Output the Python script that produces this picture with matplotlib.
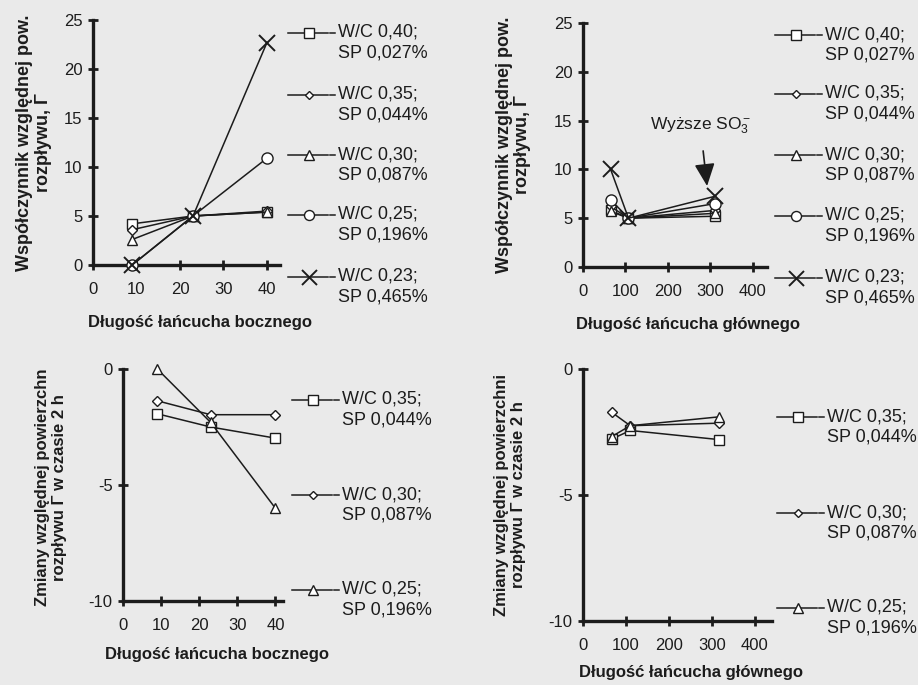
import numpy as np
import matplotlib
matplotlib.use("Agg")
from matplotlib import pyplot as plt
from matplotlib.lines import Line2D

plt.rcParams['font.family'] = ['Liberation Sans', 'DejaVu Sans']
plt.rcParams['mathtext.fontset'] = 'custom'
plt.rcParams['mathtext.rm'] = 'Liberation Sans'
plt.rcParams['mathtext.it'] = 'Liberation Sans'
plt.rcParams['axes.unicode_minus'] = False

# side chain length (panels on the left)
side_x = [9, 23, 40]
# main chain length (panels on the right)
main_x = [65, 107, 311]
main_x_2h = [67, 110, 316]

# relative spread coefficient vs side chain length
side_wc040 = [4.2, 5.0, 5.4]
side_wc035 = [3.6, 5.0, 5.5]
side_wc030 = [2.6, 5.0, 5.4]
side_wc025 = [0.0, 5.0, 10.9]
side_wc023 = [0.0, 5.0, 22.7]

# relative spread coefficient vs main chain length
main_wc040 = [5.8, 5.0, 5.2]
main_wc035 = [6.2, 5.0, 5.8]
main_wc030 = [5.7, 5.0, 5.5]
main_wc025 = [6.9, 5.0, 6.5]
main_wc023 = [10.0, 5.0, 7.25]

# change of relative spread after 2 h
side2h_wc035 = [-1.93, -2.5, -2.98]
side2h_wc030 = [-1.37, -1.97, -1.97]
side2h_wc025 = [0.0, -2.3, -6.0]

main2h_wc035 = [-2.78, -2.44, -2.8]
main2h_wc030 = [-1.72, -2.25, -2.15]
main2h_wc025 = [-2.68, -2.25, -1.9]

labels5 = ["W/C 0,40;\nSP 0,027%", "W/C 0,35;\nSP 0,044%", "W/C 0,30;\nSP 0,087%",
           "W/C 0,25;\nSP 0,196%", "W/C 0,23;\nSP 0,465%"]
labels3 = ["W/C 0,35;\nSP 0,044%", "W/C 0,30;\nSP 0,087%", "W/C 0,25;\nSP 0,196%"]

ink = '#1c1c1c'
bg = '#eaeaea'
W, H = 918, 685

styles = {
    's': dict(marker='s', ms=7.5),
    'D': dict(marker='D', ms=5),
    '^': dict(marker='^', ms=7.5),
    'o': dict(marker='o', ms=8),
    'x': dict(marker='x', ms=12, mew=1.4),
}

fig = plt.figure(figsize=(9.18, 6.85), dpi=100, facecolor=bg)


def box(l, r, top, bot):
    return [l / W, 1 - bot / H, (r - l) / W, (bot - top) / H]


def style_ax(ax, xt, yt, xlim, ylim):
    ax.set_facecolor('none')
    for s in ['top', 'right']:
        ax.spines[s].set_visible(False)
    for s in ['left', 'bottom']:
        ax.spines[s].set_linewidth(2.4)
        ax.spines[s].set_color(ink)
    ax.set_xlim(*xlim)
    ax.set_ylim(*ylim)
    ax.set_xticks(xt)
    ax.set_yticks(yt)
    ax.tick_params(direction='inout', length=7, width=2, color=ink,
                   labelsize=12, labelcolor=ink)
    ax.tick_params(axis='x', pad=9)
    ax.tick_params(axis='y', pad=4)


def plot_series(ax, x, series, marks):
    for y, m in zip(series, marks):
        st = dict(styles[m])
        ax.plot(x, y, color=ink, lw=1.1, mfc='white', mec=ink,
                clip_on=False, zorder=3, **st)


def legend(x0, ys, labels, marks):
    for y, lab, m in zip(ys, labels, marks):
        fy = 1 - y / H
        fig.add_artist(Line2D([x0 / W, (x0 + 40) / W], [fy, fy], color=ink, lw=1.1))
        fig.add_artist(Line2D([(x0 + 42) / W, (x0 + 47) / W], [fy, fy], color=ink, lw=1.1))
        st = dict(styles[m])
        st['ms'] = st['ms'] * 0.9
        fig.add_artist(Line2D([(x0 + 21) / W], [fy], color=ink, mfc='white', mec=ink, **st))
        fig.text((x0 + 50) / W, fy + 9 / H, lab, fontsize=13, color=ink,
                 va='top', ha='left', linespacing=1.3)


def labels(ax, xl, yl, xc, yc, ysize=12):
    ax.set_xlabel(xl, fontsize=12, fontweight='bold', color=ink)
    ax.xaxis.set_label_coords(*xc)
    ax.set_ylabel(yl, fontsize=ysize, fontweight='bold', color=ink, linespacing=1.15)
    ax.yaxis.set_label_coords(*yc)


marks5 = ['s', 'D', '^', 'o', 'x']
marks3 = ['s', 'D', '^']

# top left
ax1 = fig.add_axes(box(93, 280, 20, 265))
style_ax(ax1, [0, 10, 20, 30, 40], [0, 5, 10, 15, 20, 25], (0, 43), (0, 25))
plot_series(ax1, side_x, [side_wc040, side_wc035, side_wc030, side_wc025, side_wc023], marks5)
labels(ax1, "Długość łańcucha bocznego", "Współczynnik względnej pow.\nrozpływu, Γ",
       (0.57, -0.205), (-0.22, 0.5), ysize=13)
legend(288, [33, 95, 155, 215, 277], labels5, marks5)

# top right
ax2 = fig.add_axes(box(583, 767, 23, 267))
style_ax(ax2, [0, 100, 200, 300, 400], [0, 5, 10, 15, 20, 25], (0, 433), (0, 25))
plot_series(ax2, main_x, [main_wc040, main_wc035, main_wc030, main_wc025, main_wc023], marks5)
labels(ax2, "Długość łańcucha głównego", "Współczynnik względnej pow.\nrozpływu, Γ",
       (0.57, -0.205), (-0.28, 0.5), ysize=13)
ax2.annotate("Wyższe SO$_3^-$", xy=(292, 8.3), xytext=(276, 14.5), ha='center', va='center',
             fontsize=12.5, color=ink,
             arrowprops=dict(arrowstyle='-|>,head_width=0.5,head_length=1.1',
                             color=ink, lw=1.2, shrinkA=9, shrinkB=0),
             annotation_clip=False)
legend(775, [35, 94, 155, 216, 278], labels5, marks5)

# bottom left
ax3 = fig.add_axes(box(123, 283, 369, 601))
style_ax(ax3, [0, 10, 20, 30, 40], [-10, -5, 0], (0, 42), (-10, 0))
plot_series(ax3, side_x, [side2h_wc035, side2h_wc030, side2h_wc025], marks3)
labels(ax3, "Długość łańcucha bocznego", "Zmiany względnej powierzchn\nrozpływu Γ w czasie 2 h",
       (0.59, -0.2), (-0.35, 0.49))
legend(292, [400, 495, 590], labels3, marks3)

# bottom right
ax4 = fig.add_axes(box(583, 772, 369, 621))
style_ax(ax4, [0, 100, 200, 300, 400], [-10, -5, 0], (0, 440), (-10, 0))
plot_series(ax4, main_x_2h, [main2h_wc035, main2h_wc030, main2h_wc025], marks3)
labels(ax4, "Długość łańcucha głównego", "Zmiany względnej powierzchni\nrozpływu Γ w czasie 2 h",
       (0.57, -0.175), (-0.30, 0.5))
legend(777, [417, 513, 608], labels3, marks3)

plt.savefig("out.png", dpi=100, facecolor=bg)
